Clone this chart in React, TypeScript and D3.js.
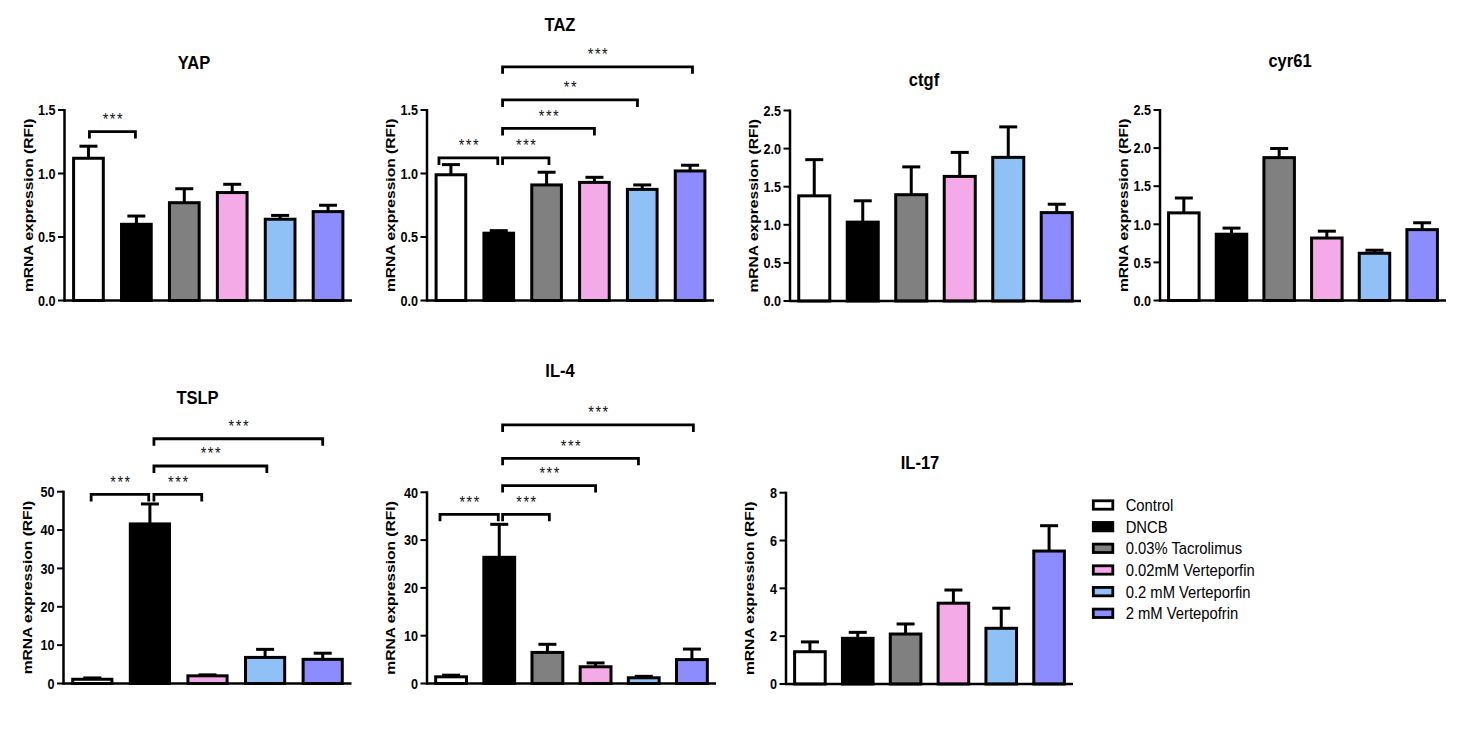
import React from "react";
import * as d3 from "d3";

const CATEGORIES = ["Control", "DNCB", "0.03% Tacrolimus", "0.02mM Verteporfin", "0.2 mM Verteporfin", "2 mM Vertepofrin"];
const COLORS = ["#ffffff", "#000000", "#808080", "#f4aae6", "#8fc0f6", "#8c8cff"];

const YAP_MEAN = [1.12, 0.6, 0.77, 0.85, 0.64, 0.7];
const YAP_SEM = [0.095, 0.065, 0.11, 0.065, 0.03, 0.05];
const TAZ_MEAN = [0.99, 0.53, 0.91, 0.93, 0.875, 1.02];
const TAZ_SEM = [0.08, 0.02, 0.1, 0.04, 0.035, 0.045];
const CTGF_MEAN = [1.38, 1.035, 1.395, 1.635, 1.885, 1.16];
const CTGF_SEM = [0.475, 0.28, 0.365, 0.315, 0.4, 0.11];
const CYR61_MEAN = [1.15, 0.87, 1.875, 0.82, 0.62, 0.93];
const CYR61_SEM = [0.195, 0.08, 0.12, 0.09, 0.04, 0.09];
const TSLP_MEAN = [1.1, 41.6, null, 2.0, 6.8, 6.3];
const TSLP_SEM = [0.35, 5.2, null, 0.25, 2.1, 1.6];
const IL4_MEAN = [1.4, 26.4, 6.5, 3.5, 1.2, 5.0];
const IL4_SEM = [0.34, 6.9, 1.7, 0.8, 0.3, 2.2];
const IL17_MEAN = [1.35, 1.91, 2.09, 3.38, 2.33, 5.56];
const IL17_SEM = [0.41, 0.25, 0.42, 0.55, 0.84, 1.06];

// significance brackets: [from position, to position, height (data units), label]
const YAP_SIG = [[0.02, 0.98, 1.33, "***"]];
const TAZ_SIG = [
  [-0.25, 0.98, 1.123, "***"],
  [1.08, 2.05, 1.123, "***"],
  [1.08, 3.0, 1.355, "***"],
  [1.08, 3.9, 1.579, "**"],
  [1.08, 5.05, 1.84, "***"],
];
const TSLP_SIG = [
  [-0.02, 0.98, 49.3, "***"],
  [1.07, 1.9, 49.3, "***"],
  [1.07, 3.03, 56.7, "***"],
  [1.07, 4.0, 63.8, "***"],
];
const IL4_SIG = [
  [-0.23, 0.98, 35.4, "***"],
  [1.07, 2.04, 35.4, "***"],
  [1.07, 3.0, 41.4, "***"],
  [1.07, 3.89, 47.1, "***"],
  [1.07, 5.03, 54.1, "***"],
];

const FONT = "'Liberation Sans', Arial, Helvetica, sans-serif";
const SX = 0.87;

const PANELS = [
  { title: "YAP", mean: YAP_MEAN, sem: YAP_SEM, sig: YAP_SIG, max: 1.5, step: 0.5, fmt: ".1f", x0: 64.5, x1: 352, yTop: 110, yBot: 300.5, tx: 194, ty: 68.5, pad: 0.38 },
  { title: "TAZ", mean: TAZ_MEAN, sem: TAZ_SEM, sig: TAZ_SIG, max: 1.5, step: 0.5, fmt: ".1f", x0: 427, x1: 714, yTop: 110, yBot: 300.5, tx: 560, ty: 30.5, pad: 0.38 },
  { title: "ctgf", mean: CTGF_MEAN, sem: CTGF_SEM, sig: [], max: 2.5, step: 0.5, fmt: ".1f", x0: 790, x1: 1081, yTop: 110.5, yBot: 301, tx: 924, ty: 86, pad: 0.36 },
  { title: "cyr61", mean: CYR61_MEAN, sem: CYR61_SEM, sig: [], max: 2.5, step: 0.5, fmt: ".1f", x0: 1160, x1: 1446, yTop: 110, yBot: 300.5, tx: 1290, ty: 67, pad: 0.36 },
  { title: "TSLP", mean: TSLP_MEAN, sem: TSLP_SEM, sig: TSLP_SIG, max: 50, step: 10, fmt: "d", x0: 63.5, x1: 351.5, yTop: 491.7, yBot: 683.5, tx: 197.5, ty: 404, pad: 0.32 },
  { title: "IL-4", mean: IL4_MEAN, sem: IL4_SEM, sig: IL4_SIG, max: 40, step: 10, fmt: "d", x0: 427, x1: 716, yTop: 492.3, yBot: 683.5, tx: 560, ty: 377, pad: 0.36 },
  { title: "IL-17", mean: IL17_MEAN, sem: IL17_SEM, sig: [], max: 8, step: 2, fmt: "d", x0: 786, x1: 1073, yTop: 492.7, yBot: 684, tx: 920, ty: 469, pad: 0.36 },
];

function sText(x: number, y: number, extra = "") {
  return `translate(${x},${y}) scale(${SX},1)${extra}`;
}

function Panel({ p }: { p: any }) {
  const idx = CATEGORIES.map((_, i) => i).filter((i) => p.mean[i] !== null);
  const xb = d3
    .scaleBand<number>()
    .domain(idx)
    .range([p.x0, p.x1])
    .paddingInner(p.pad)
    .paddingOuter(p.pad / 2);
  const y = d3.scaleLinear().domain([0, p.max]).range([p.yBot, p.yTop]);
  const ticks = d3.range(0, p.max + p.step / 2, p.step);
  const fmt = d3.format(p.fmt);
  const bw = xb.bandwidth();
  const first = (xb(idx[0]) as number) + bw / 2;
  const pos = (k: number) => first + k * xb.step();
  const capW = 18;
  return (
    <g>
      <text transform={sText(p.tx, p.ty)} textAnchor="middle" fontFamily={FONT} fontWeight="bold" fontSize={19}>
        {p.title}
      </text>
      <text
        transform={sText(p.x0 - 32, (p.yTop + p.yBot) / 2, " rotate(-90)")}
        textAnchor="middle"
        fontFamily={FONT}
        fontWeight="bold"
        fontSize={15.6}
      >
        mRNA expression (RFI)
      </text>
      {ticks.map((t) => (
        <g key={t}>
          <line x1={p.x0 - 6.5} x2={p.x0} y1={y(t)} y2={y(t)} stroke="#000" strokeWidth={2} />
          <text transform={sText(p.x0 - 9, y(t))} dy="0.36em" textAnchor="end" fontFamily={FONT} fontWeight="bold" fontSize={14.5}>
            {fmt(t)}
          </text>
        </g>
      ))}
      {idx.map((i) => {
        const cx = (xb(i) as number) + bw / 2;
        const top = y(p.mean[i]);
        const et = y(p.mean[i] + p.sem[i]);
        return (
          <g key={i}>
            <line x1={cx} x2={cx} y1={top} y2={et} stroke="#000" strokeWidth={3} />
            <line x1={cx - capW / 2} x2={cx + capW / 2} y1={et} y2={et} stroke="#000" strokeWidth={3} />
            <rect x={xb(i)} y={top} width={bw} height={p.yBot - top} fill={COLORS[i]} stroke="#000" strokeWidth={3} />
          </g>
        );
      })}
      <line x1={p.x0} x2={p.x0} y1={p.yTop - 1} y2={p.yBot + 1} stroke="#000" strokeWidth={2.5} />
      <line x1={p.x0 - 1} x2={p.x1} y1={p.yBot} y2={p.yBot} stroke="#000" strokeWidth={2.5} />
      {p.sig.map((s: any, k: number) => {
        const xa = pos(s[0]);
        const xe = pos(s[1]);
        const yy = y(s[2]);
        return (
          <g key={"s" + k}>
            <path d={`M${xa},${yy + 7}V${yy}H${xe}V${yy + 7}`} fill="none" stroke="#000" strokeWidth={2.8} />
            <text
              transform={sText((xa + xe) / 2 + 1, yy - 6.5)}
              textAnchor="middle"
              fontFamily={FONT}
              fontSize={16.5}
              letterSpacing={1.8}
              fill="#111"
            >
              {s[3]}
            </text>
          </g>
        );
      })}
    </g>
  );
}

export default function App() {
  const legendY = d3.scalePoint<number>().domain(CATEGORIES.map((_, i) => i)).range([505, 613.3]);
  return (
    <svg
      width={1458}
      height={738}
      style={{ position: "absolute", left: 0, top: 0, background: "#fff" }}
    >
      <rect x={0} y={0} width={1458} height={738} fill="#fff" />
      {PANELS.map((p) => (
        <Panel key={p.title} p={p} />
      ))}
      <g>
        {CATEGORIES.map((c, i) => (
          <g key={c}>
            <rect x={1093.3} y={(legendY(i) as number) - 4.2} width={19.5} height={8.4} fill={COLORS[i]} stroke="#000" strokeWidth={2.8} />
            <text transform={sText(1125.7, legendY(i) as number)} dy="0.36em" fontFamily={FONT} fontSize={17}>
              {c}
            </text>
          </g>
        ))}
      </g>
    </svg>
  );
}
